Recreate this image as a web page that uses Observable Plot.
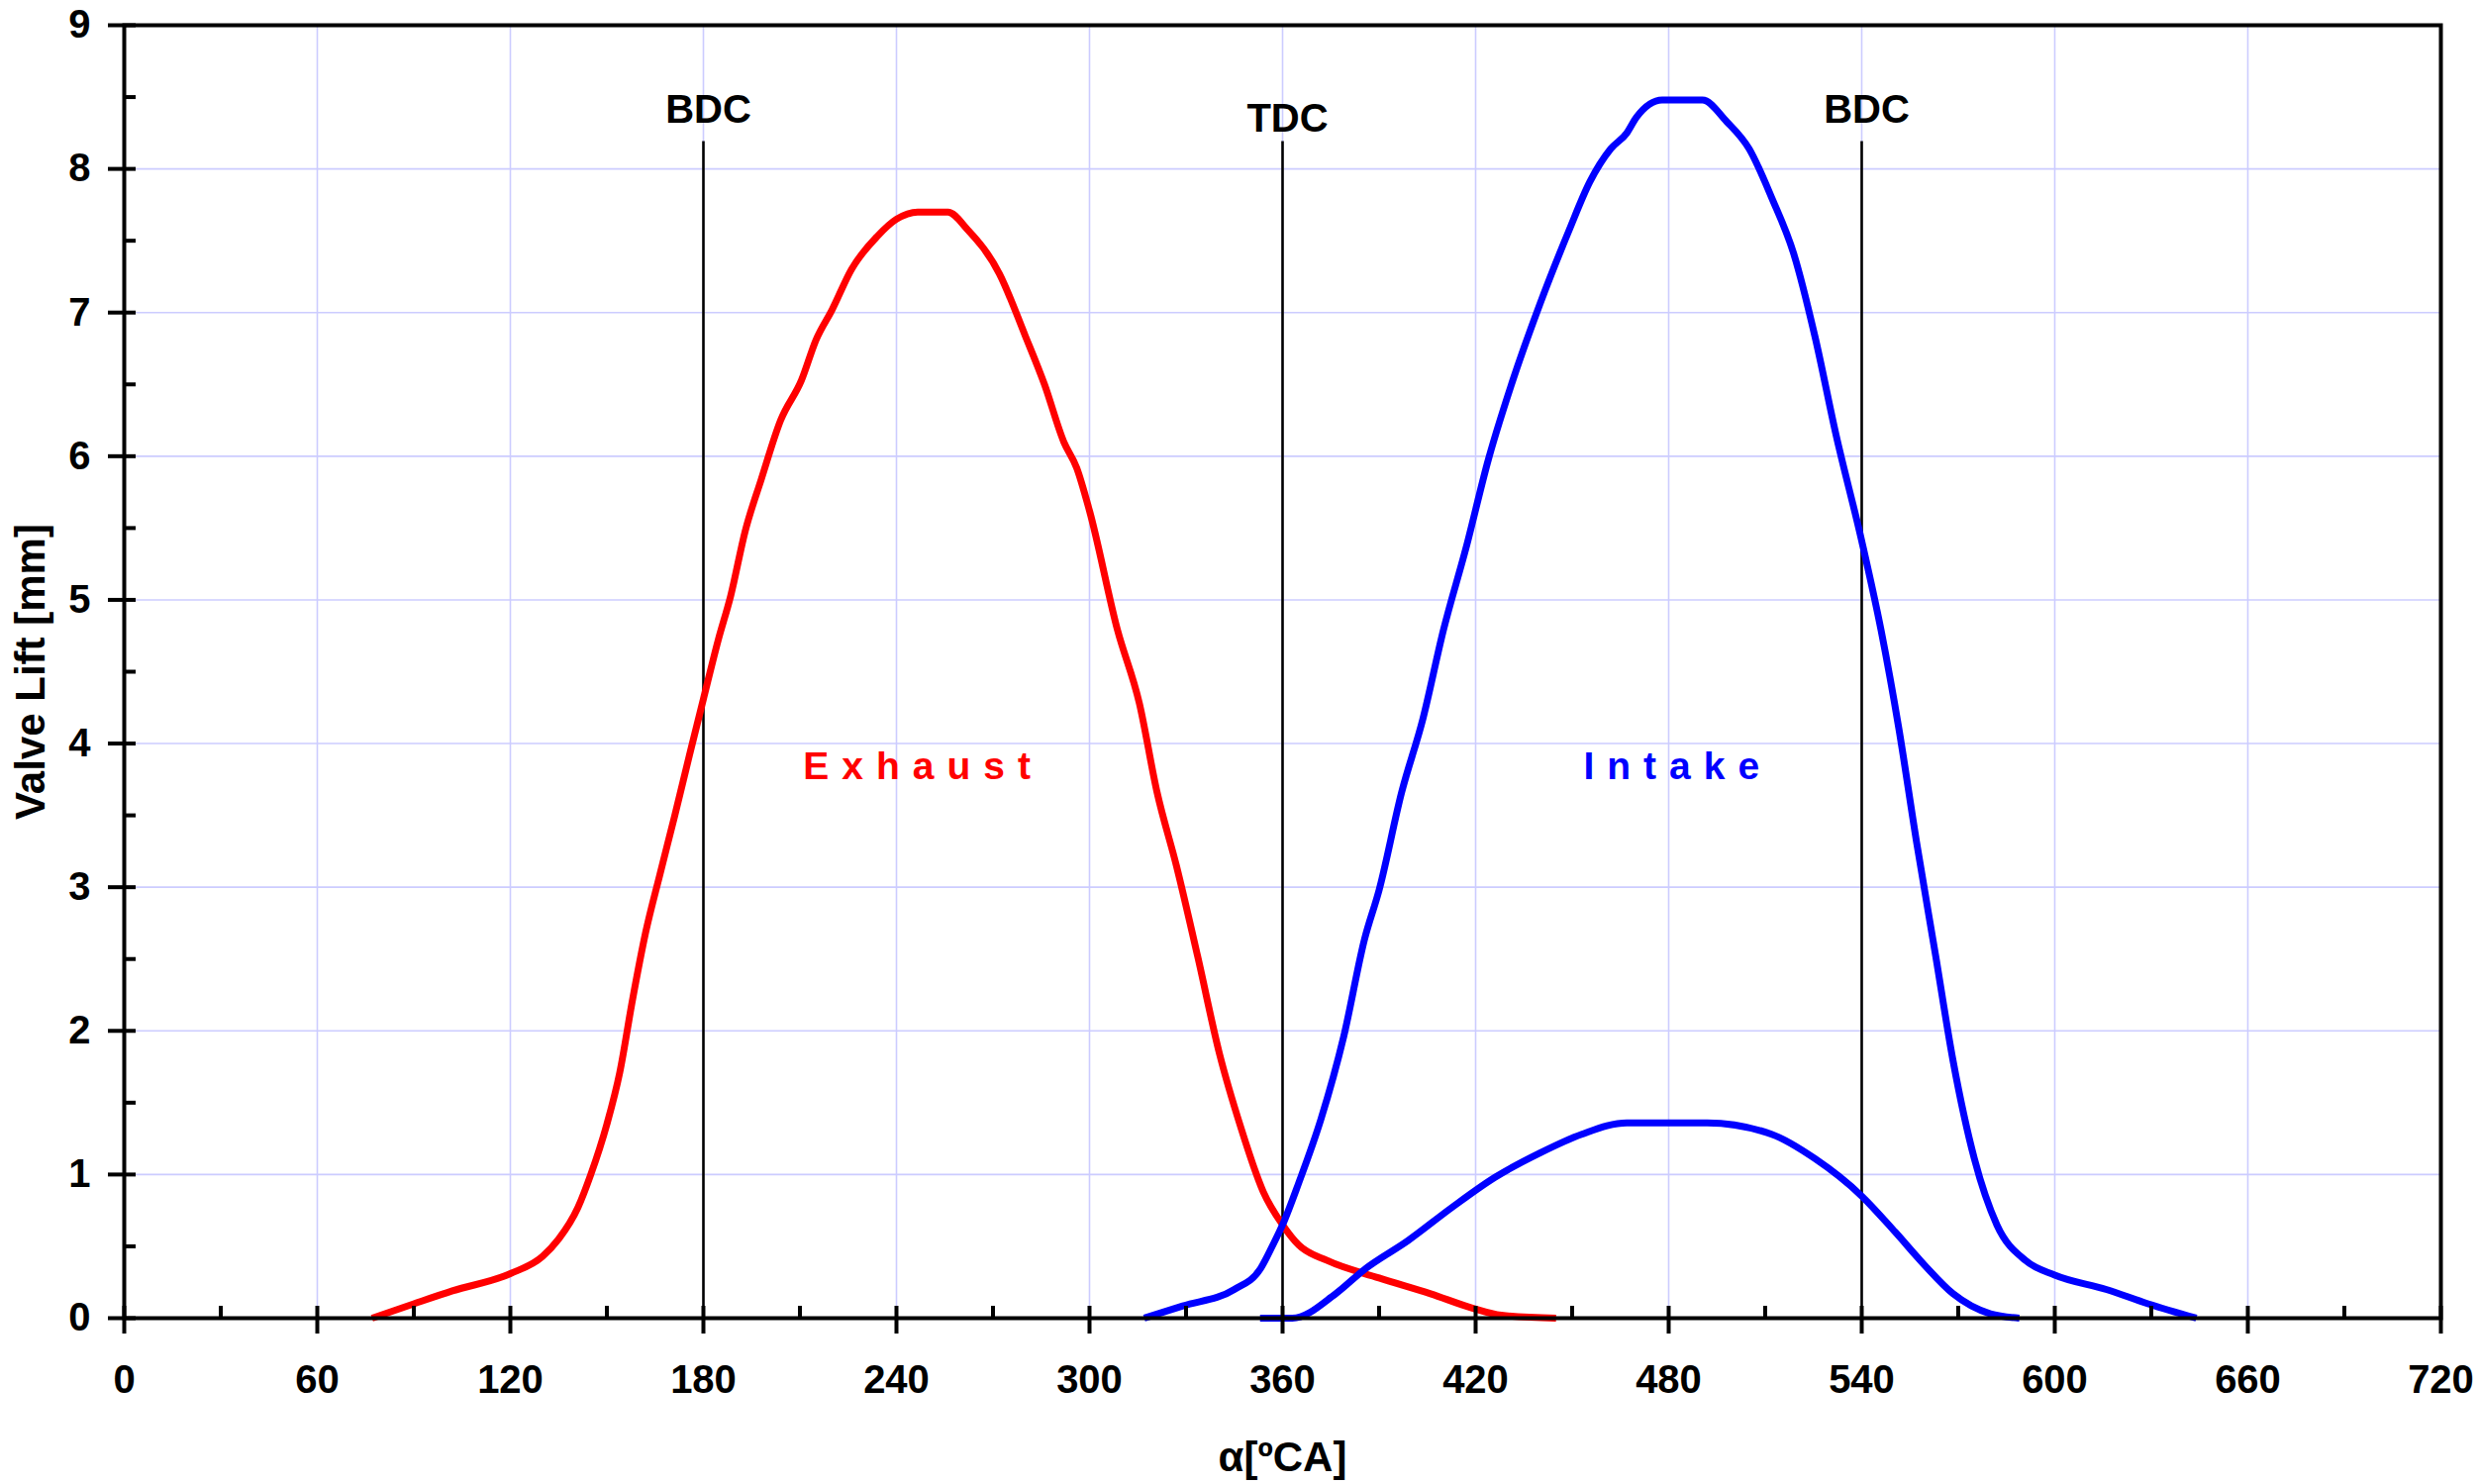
<!DOCTYPE html>
<html>
<head>
<meta charset="utf-8">
<script src="https://cdn.jsdelivr.net/npm/d3@7"></script>
<script src="https://cdn.jsdelivr.net/npm/@observablehq/plot@0.6"></script>
<style>
  html, body { margin: 0; padding: 0; background: #fff; }
  #chart svg { display: block; }
</style>
</head>
<body>
<div id="chart"></div>
<script>
// Exhaust valve lift
const exhaustAngle = [77, 90, 102, 120, 130, 135, 141, 145, 150, 154, 158, 162, 166.5, 171, 176, 180, 184.6, 188.5, 193, 198, 204, 210.5, 215, 220, 226, 234, 240, 246.6, 256, 262, 272, 280, 286, 292, 296, 300, 308.7, 315.5, 321, 327, 333.6, 340.4, 347, 354, 360, 365, 374, 390, 406, 419, 428, 445];
const exhaustLift  = [0, 0.10, 0.19, 0.31, 0.43, 0.55, 0.77, 1.00, 1.35, 1.71, 2.22, 2.68, 3.09, 3.49, 3.95, 4.31, 4.72, 5.03, 5.48, 5.84, 6.25, 6.53, 6.81, 7.02, 7.30, 7.53, 7.65, 7.70, 7.70, 7.58, 7.27, 6.84, 6.50, 6.10, 5.92, 5.62, 4.79, 4.28, 3.66, 3.15, 2.52, 1.84, 1.33, 0.88, 0.65, 0.51, 0.40, 0.28, 0.17, 0.07, 0.02, 0];

// Intake valve lift (full)
const intakeAngle = [317, 329, 345, 353, 357, 360, 365, 372, 379, 385.5, 390, 397, 403.6, 410, 417, 424, 431, 440, 449, 455.5, 462, 467, 470, 478, 490.5, 498, 505, 512, 519, 525.5, 532, 540, 546, 551.5, 557, 563, 568.4, 575, 582, 591, 600, 616, 629, 644];
const intakeLift  = [0, 0.085, 0.20, 0.34, 0.51, 0.65, 0.94, 1.39, 1.96, 2.64, 2.98, 3.66, 4.17, 4.79, 5.36, 5.98, 6.49, 7.06, 7.57, 7.91, 8.14, 8.25, 8.36, 8.48, 8.48, 8.33, 8.14, 7.80, 7.40, 6.83, 6.15, 5.41, 4.79, 4.11, 3.32, 2.52, 1.79, 1.11, 0.65, 0.40, 0.30, 0.20, 0.10, 0];

// Intake valve lift (small)
const intakeSmallAngle = [353, 363, 376.5, 385.5, 399, 412.6, 426, 440, 453, 467, 492, 512, 525.5, 540, 550.4, 559.5, 568.4, 580, 589];
const intakeSmallLift  = [0, 0, 0.17, 0.34, 0.54, 0.77, 0.98, 1.15, 1.28, 1.36, 1.36, 1.28, 1.11, 0.85, 0.60, 0.37, 0.17, 0.03, 0];

// Dead centres
const deadCentreAngle = [180, 360, 540];
const deadCentreLabel = ["BDC", "TDC", "BDC"];
const deadCentreTop = 8.19;
const deadCentreLabelY = [8.32, 8.26, 8.32];

// Curve labels
const curveLabel = ["Exhaust", "Intake"];
const curveLabelAngle = [246.5, 481];
const curveLabelLift = [3.84, 3.84];
const curveLabelColor = ["#ff0000", "#0000ff"];

// Ticks
const xTicks = d3.range(0, 721, 60);
const xMinorTicks = d3.range(30, 720, 60);
const yTicks = d3.range(0, 10, 1);
const yMinorTicks = d3.range(0.5, 9, 1);

const xLabel = "α[ºCA]";
const yLabel = "Valve Lift [mm]";

const toPts = (xs, ys) => xs.map((x, i) => ({x, y: ys[i]}));
const exhaust = toPts(exhaustAngle, exhaustLift);
const intake = toPts(intakeAngle, intakeLift);
const intakeSmall = toPts(intakeSmallAngle, intakeSmallLift);
const centres = deadCentreAngle.map((x, i) => ({x, label: deadCentreLabel[i], ly: deadCentreLabelY[i]}));
const labels = curveLabel.map((t, i) => ({t, x: curveLabelAngle[i], y: curveLabelLift[i], c: curveLabelColor[i]}));

const FONT = "Liberation Sans, Arial, Helvetica, sans-serif";
const lineStyle = {x: "x", y: "y", strokeWidth: 7, curve: "monotone-x", strokeLinejoin: "round", strokeLinecap: "butt"};

const chart = Plot.plot({
  width: 2504,
  height: 1499,
  marginLeft: 125,
  marginRight: 39,
  marginTop: 25,
  marginBottom: 168,
  style: {fontFamily: FONT, background: "#fff", overflow: "visible"},
  x: {domain: [0, 720]},
  y: {domain: [0, 9]},
  marks: [
    Plot.ruleX(xTicks, {x: d => d, stroke: "#ccccff", strokeWidth: 1.6}),
    Plot.ruleY(yTicks, {y: d => d, stroke: "#ccccff", strokeWidth: 1.6}),
    Plot.ruleX(centres, {x: "x", y1: 0, y2: deadCentreTop, stroke: "#000", strokeWidth: 2.6}),
    Plot.text(centres, {x: "x", y: "ly", text: "label", dx: 5, lineAnchor: "bottom", fontSize: 40, fontWeight: "bold", fill: "#000"}),
    Plot.line(exhaust, {...lineStyle, stroke: "#ff0000"}),
    Plot.line(intakeSmall, {...lineStyle, stroke: "#0000ff"}),
    Plot.line(intake, {...lineStyle, stroke: "#0000ff"}),
    Plot.text(labels, {x: "x", y: "y", text: "t", fill: "c", dx: 6, fontSize: 39, fontWeight: "bold"}),
    Plot.frame({stroke: "#000", strokeWidth: 4}),
    // major ticks (crossing the axis)
    Plot.ruleX(xTicks, {x: d => d, y1: 0, y2: 0, insetTop: -12, insetBottom: -16, stroke: "#000", strokeWidth: 4}),
    Plot.ruleY(yTicks, {y: d => d, x1: 0, x2: 0, insetLeft: -16, insetRight: -12, stroke: "#000", strokeWidth: 4}),
    // minor ticks (inside)
    Plot.ruleX(xMinorTicks, {x: d => d, y1: 0, y2: 0, insetTop: -12, insetBottom: 0, stroke: "#000", strokeWidth: 4}),
    Plot.ruleY(yMinorTicks, {y: d => d, x1: 0, x2: 0, insetLeft: 0, insetRight: -12, stroke: "#000", strokeWidth: 4}),
    Plot.axisX({ticks: xTicks, tickSize: 0, tickPadding: 47, fontSize: 40, fontWeight: "bold", label: null, tickFormat: d => String(d)}),
    Plot.axisY({ticks: yTicks, tickSize: 0, tickPadding: 34, fontSize: 40, fontWeight: "bold", label: null, tickFormat: d => String(d)}),
    Plot.text([xLabel], {frameAnchor: "bottom", dy: 154, lineAnchor: "bottom", fontSize: 42, fontWeight: "bold", fill: "#000"}),
    Plot.text([yLabel], {frameAnchor: "left", textAnchor: "middle", dx: -94, rotate: -90, fontSize: 42, fontWeight: "bold", fill: "#000"})
  ]
});

d3.select(chart).selectAll("text")
  .filter(function () { return curveLabel.includes(this.textContent); })
  .attr("letter-spacing", "13px");

document.getElementById("chart").appendChild(chart);
</script>
</body>
</html>
